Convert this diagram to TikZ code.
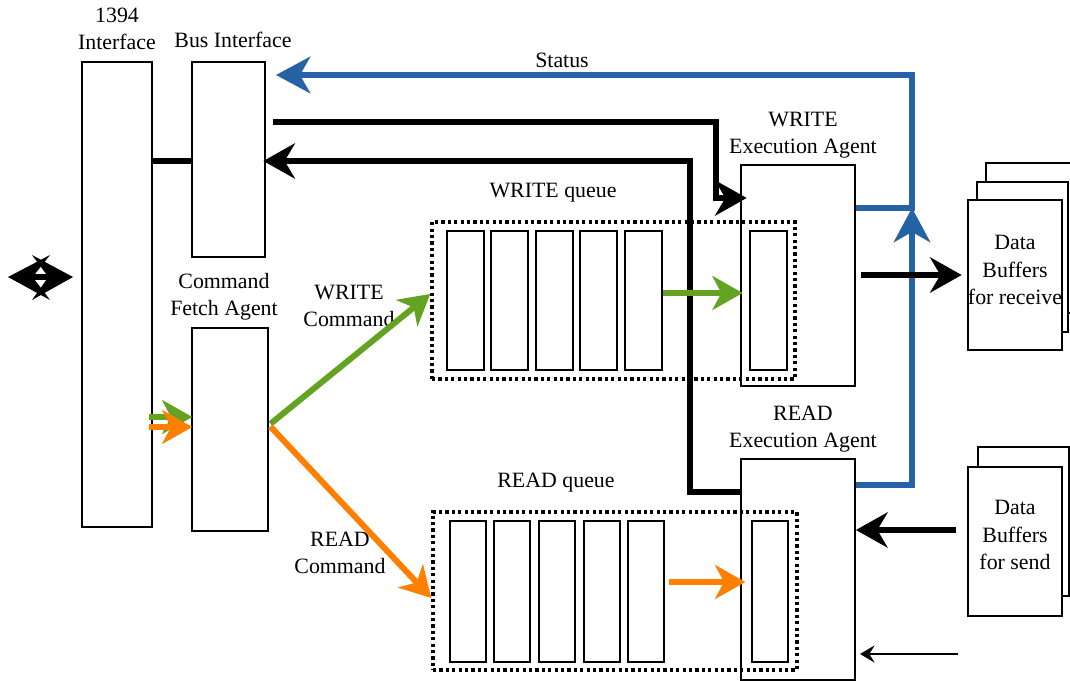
\documentclass[tikz,border=0pt]{standalone}
\usepackage{fontspec}
\setmainfont{Liberation Serif}
\usetikzlibrary{arrows.meta,fit}
\definecolor{sblue}{RGB}{38,99,165}
\definecolor{sgreen}{RGB}{99,163,33}
\definecolor{sorange}{RGB}{255,128,0}
\tikzset{
  BigT/.tip={Stealth[length=24pt,width=27pt,inset=8pt,line width=0pt]},
  BlueT/.tip={Stealth[length=26pt,width=28pt,inset=8pt,line width=0pt]},
  ColT/.tip={Stealth[length=23pt,width=26pt,inset=7pt,line width=0pt]},
  ThinT/.tip={Stealth[length=11pt,width=13pt,inset=4pt,line width=0pt]},
  box/.style={draw,line width=1.5pt,inner sep=0pt,fill=white},
  slot/.style={draw,line width=1.4pt,inner sep=0pt},
  dotbox/.style={draw,line width=2.6pt,dash pattern=on 2.4pt off 2.4pt,inner sep=0pt},
  lbl/.style={inner sep=0pt,align=center,font=\fontsize{16.4pt}{20.3pt}\selectfont},
  blk/.style={line width=4.5pt,-BigT},
  blu/.style={line width=4.5pt,color=sblue,-BlueT},
  grn/.style={line width=4.5pt,color=sgreen,-ColT},
  org/.style={line width=4.5pt,color=sorange,-ColT},
}
\begin{document}
\begin{tikzpicture}[x=0.75pt,y=-0.75pt]
\clip (0,0) rectangle (1070,681);
\useasboundingbox (0,0) rectangle (1070,681);

% main boxes
\node[box,fit={(82,62)(152,527)}] (iface) {};
\node[lbl] (ifacel) at (117,29) {1394\\Interface};
\node[box,fit={(192,62)(265,257)}] (bus) {};
\node[lbl] (busl) at (233,40) {Bus Interface};
\node[box,fit={(192,328)(268,531)}] (cfa) {};
\node[lbl] (cfal) at (224,297) {Command\\Fetch Agent};

\node[box,fit={(741,165)(855,386)}] (wexe) {};
\node[lbl] (wexel) at (803,135) {WRITE\\Execution Agent};
\node[box,fit={(741,459)(855,680)}] (rexe) {};
\node[lbl] (rexel) at (803,429) {READ\\Execution Agent};

% write queue
\node[lbl] (wql) at (553,193) {WRITE queue};
\foreach \i/\x in {1/447,2/491,3/536,4/580,5/625}
  \node[slot,fit={(\x,231)(\x+37,370)}] (ws\i) {};
\node[slot,fit={(750,231)(787,370)}] (wslot) {};
\node[dotbox,fit={(432,222)(795,379)}] (wq) {};

% read queue
\node[lbl] (rql) at (556,483) {READ queue};
\foreach \i/\x in {1/450,2/494,3/539,4/584,5/628}
  \node[slot,fit={(\x,521)(\x+36,662)}] (rs\i) {};
\node[slot,fit={(752,521)(788,662)}] (rslot) {};
\node[dotbox,fit={(433,512)(797,670)}] (rq) {};

% data buffers receive
\node[box,fit={(986,163)(1077,313)}] (rbuf3) {};
\node[box,fit={(977,182)(1068,332)}] (rbuf2) {};
\node[box,fit={(968,200)(1062,350)}] (rbuf1) {};
\node[lbl] (rbufl) at (1015,270) {Data\\Buffers\\for receive};
% data buffers send
\node[box,fit={(978,447)(1069,596)}] (sbuf2) {};
\node[box,fit={(968,467)(1062,616)}] (sbuf1) {};
\node[lbl] (sbufl) at (1015,535) {Data\\Buffers\\for send};

% labels
\node[lbl] (statl) at (562,60) {Status};
\node[lbl] (wcl) at (349,306) {WRITE\\Command};
\node[lbl] (rcl) at (340,553) {READ\\Command};

% left double arrow
\coordinate (dl) at (8,277);
\coordinate (dr) at (73,277);
\fill (dl) -- (50,255) -- (32.6,277) -- (50,300) -- cycle;
\fill (dr) -- (32,255) -- (48.4,277) -- (32,300) -- cycle;
\draw[line width=5pt] (28,277) -- (53,277);

% interface link
\draw[line width=4.5pt] (iface.east |- 0,161) -- (bus.west |- 0,161);

% status (blue)
\draw[blu] (rexe.east |- 0,485) -- (912,485) -- (912,208);
\draw[blu,shorten >=7.5pt] (wexe.east |- 0,208) -- (912,208) -- (912,75) -- (bus.east |- 0,75);

% black command/data paths
\draw[blk,shorten <=5pt,shorten >=-5pt] (bus.east |- 0,122) -- (716,122) -- (716,198) -- (wexe.west |- 0,198);
\draw[blk,shorten >=-2pt] (rexe.west |- 0,492) -- (690,492) -- (690,161) -- (bus.east |- 0,161);

% fetch
\draw[grn,shorten <=-3pt,shorten >=-1pt] (iface.east |- 0,417) -- (cfa.west |- 0,417);
\draw[org,shorten <=-3pt,shorten >=-1pt] (iface.east |- 0,427) -- (cfa.west |- 0,427);
\draw[grn,shorten <=1.5pt] (cfa.east |- 0,425) -- (wq.west |- 0,294);
\draw[org,shorten <=1.5pt] (cfa.east |- 0,425) -- (rq.west |- 0,598);
\draw[grn,shorten >=-2pt] (ws5.east |- 0,293) -- (wexe.west |- 0,293);
\draw[org,shorten <=3pt,shorten >=-4pt] (rs5.east |- 0,582) -- (rexe.west |- 0,582);

% data
\draw[blk,shorten <=4pt,shorten >=4pt] (wexe.east |- 0,275) -- (rbuf1.west |- 0,275);
\draw[blk,shorten <=8pt] (sbuf1.west |- 0,530) -- (rexe.east |- 0,530);
\coordinate (thin) at (958,654);
\draw[line width=1pt,-ThinT,shorten >=3pt] (thin) -- (rexe.east |- 0,654);
\end{tikzpicture}
\end{document}
